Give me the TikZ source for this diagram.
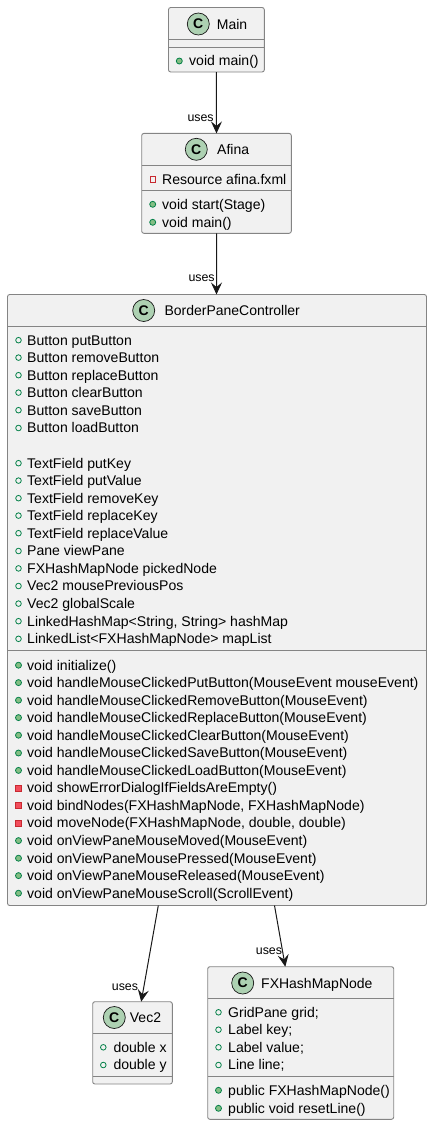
\documentclass[tikz,border=0pt]{standalone}
\usepackage{fontspec}
\setmainfont{Liberation Sans}
\usetikzlibrary{arrows.meta,calc}
\definecolor{boxfill}{HTML}{F1F1F1}
\definecolor{boxline}{HTML}{848484}
\definecolor{dark}{HTML}{181818}
\definecolor{spot}{HTML}{ADD1B2}
\definecolor{publine}{HTML}{038048}
\definecolor{pubfill}{HTML}{84BE84}
\definecolor{privline}{HTML}{C82930}
\definecolor{privfill}{HTML}{F24D5C}
\newcounter{rowid}
\tikzset{
  x=1pt,y=-1pt,
  classbox/.style={draw=boxline,fill=boxfill,line width=0.9pt,rounded corners=2.2pt,inner sep=0pt,outer sep=0pt,anchor=north west},
  sepline/.style={draw=boxline,line width=0.9pt},
  spotc/.style={circle,draw=dark,fill=spot,line width=0.7pt,minimum size=22pt,inner sep=0pt,font=\fontsize{14}{14}\selectfont\bfseries,text=black},
  titletext/.style={anchor=base west,inner sep=0pt,font=\fontsize{14}{14}\selectfont,text=black},
  rowtext/.style={anchor=base west,inner sep=0pt,font=\fontsize{14.05}{14}\selectfont,text=black},
  pubfield/.style={circle,draw=publine,line width=0.8pt,minimum size=5.6pt,inner sep=0pt},
  pubmethod/.style={circle,draw=publine,fill=pubfill,line width=0.8pt,minimum size=6pt,inner sep=0pt},
  privfield/.style={rectangle,draw=privline,line width=0.8pt,minimum size=5.6pt,inner sep=0pt},
  privmethod/.style={rectangle,draw=privline,fill=privfill,line width=0.8pt,minimum size=6pt,inner sep=0pt},
  edgelabel/.style={inner sep=0pt,font=\fontsize{12.4}{12}\selectfont,text=black},
  uses/.style={draw=dark,line width=1pt,-{Stealth[length=12pt,width=11pt,inset=4.5pt]}},
}
% #1 icon style, #2 icon x, #3 text x, #4 row centre y, #5 text
\newcommand{\classrow}[5]{%
  \stepcounter{rowid}%
  \node[#1] (icon\arabic{rowid}) at (#2,#4) {};
  \node[rowtext] (text\arabic{rowid}) at (#3,#4+4.8) {#5};
}
% #1 name, #2 x1, #3 y1, #4 x2, #5 y2
\newcommand{\classframe}[5]{%
  \node[classbox,minimum width=#4pt-#2pt,minimum height=#5pt-#3pt] (#1) at (#2,#3) {};
}
\newcommand{\classsep}[3]{\draw[sepline] (#1,#3) -- (#2,#3);}
\begin{document}
\begin{tikzpicture}
\useasboundingbox (0,0) rectangle (432,1125);
% Main
\classframe{main}{168.5}{7.5}{264.3}{72}
\classsep{168.5}{264.3}{39.4}
\classsep{168.5}{264.3}{47.4}
\node[spotc] (mainc) at (198.3,24) {C};
\node[titletext] (maint) at (216.7,29) {Main};
\classrow{pubmethod}{179.3}{189}{61}{void main()}
% Afina
\classframe{afina}{141.7}{133.4}{291.3}{233.3}
\classsep{141.7}{291.3}{165}
\classsep{141.7}{291.3}{190.7}
\node[spotc] (afinac) at (196.3,149.3) {C};
\node[titletext] (afinat) at (217,154.5) {Afina};
\classrow{privfield}{152.7}{162}{179.3}{Resource afina.fxml}
\classrow{pubmethod}{152.7}{162}{204.3}{void start(Stage)}
\classrow{pubmethod}{152.7}{162}{222.3}{void main()}
% BorderPaneController
\classframe{bpc}{7.5}{294.5}{426.5}{905.5}
\classsep{7.5}{426.5}{326}
\classsep{7.5}{426.5}{650.4}
\node[spotc] (bpcc) at (143.7,310.5) {C};
\node[titletext] (bpct) at (164.3,315.6) {BorderPaneController};
\classrow{pubfield}{18.5}{27}{340.2}{Button putButton}
\classrow{pubfield}{18.5}{27}{357.6}{Button removeButton}
\classrow{pubfield}{18.5}{27}{375.2}{Button replaceButton}
\classrow{pubfield}{18.5}{27}{392.6}{Button clearButton}
\classrow{pubfield}{18.5}{27}{410.2}{Button saveButton}
\classrow{pubfield}{18.5}{27}{428}{Button loadButton}
\classrow{pubfield}{18.5}{27}{463.2}{TextField putKey}
\classrow{pubfield}{18.5}{27}{480.6}{TextField putValue}
\classrow{pubfield}{18.5}{27}{498.2}{TextField removeKey}
\classrow{pubfield}{18.5}{27}{515.6}{TextField replaceKey}
\classrow{pubfield}{18.5}{27}{533.2}{TextField replaceValue}
\classrow{pubfield}{18.5}{27}{551}{Pane viewPane}
\classrow{pubfield}{18.5}{27}{568.4}{FXHashMapNode pickedNode}
\classrow{pubfield}{18.5}{27}{586}{Vec2 mousePreviousPos}
\classrow{pubfield}{18.5}{27}{603.6}{Vec2 globalScale}
\classrow{pubfield}{18.5}{27}{621.2}{LinkedHashMap<String, String> hashMap}
\classrow{pubfield}{18.5}{27}{638.8}{LinkedList<FXHashMapNode> mapList}
\classrow{pubmethod}{18.5}{27}{665.2}{void initialize()}
\classrow{pubmethod}{18.5}{27}{682.6}{void handleMouseClickedPutButton(MouseEvent mouseEvent)}
\classrow{pubmethod}{18.5}{27}{700.2}{void handleMouseClickedRemoveButton(MouseEvent)}
\classrow{pubmethod}{18.5}{27}{717.6}{void handleMouseClickedReplaceButton(MouseEvent)}
\classrow{pubmethod}{18.5}{27}{735.2}{void handleMouseClickedClearButton(MouseEvent)}
\classrow{pubmethod}{18.5}{27}{753}{void handleMouseClickedSaveButton(MouseEvent)}
\classrow{pubmethod}{18.5}{27}{770.4}{void handleMouseClickedLoadButton(MouseEvent)}
\classrow{privmethod}{18.5}{27}{788}{void showErrorDialogIfFieldsAreEmpty()}
\classrow{privmethod}{18.5}{27}{805.4}{void bindNodes(FXHashMapNode, FXHashMapNode)}
\classrow{privmethod}{18.5}{27}{823}{void moveNode(FXHashMapNode, double, double)}
\classrow{pubmethod}{18.5}{27}{840.6}{void onViewPaneMouseMoved(MouseEvent)}
\classrow{pubmethod}{18.5}{27}{858.2}{void onViewPaneMousePressed(MouseEvent)}
\classrow{pubmethod}{18.5}{27}{875.6}{void onViewPaneMouseReleased(MouseEvent)}
\classrow{pubmethod}{18.5}{27}{893.2}{void onViewPaneMouseScroll(ScrollEvent)}
% Vec2
\classframe{vec}{92.7}{1001.7}{172.3}{1084}
\classsep{92.7}{172.3}{1033.4}
\classsep{92.7}{172.3}{1076}
\node[spotc] (vecc) at (114.3,1017.5) {C};
\node[titletext] (vect) at (129.7,1022.6) {Vec2};
\classrow{pubfield}{103.3}{113.3}{1047.3}{double x}
\classrow{pubfield}{103.3}{113.3}{1065}{double y}
% FXHashMapNode
\classframe{fx}{207.7}{966.7}{393.7}{1119.3}
\classsep{207.7}{393.7}{998.4}
\classsep{207.7}{393.7}{1076.4}
\node[spotc] (fxc) at (242.7,983) {C};
\node[titletext] (fxt) at (261,988) {FXHashMapNode};
\classrow{pubfield}{218.5}{228}{1012.3}{GridPane grid;}
\classrow{pubfield}{218.5}{228}{1029.7}{Label key;}
\classrow{pubfield}{218.5}{228}{1047.3}{Label value;}
\classrow{pubfield}{218.5}{228}{1065}{Line line;}
\classrow{pubmethod}{218.5}{228}{1090.3}{public FXHashMapNode()}
\classrow{pubmethod}{218.5}{228}{1108.3}{public void resetLine()}
% connectors
\draw[uses] ($(main.south west)!0.5!(main.south east)$) -- ($(afina.north west)!0.5!(afina.north east)$);
\draw[uses] ($(afina.south west)!0.5!(afina.south east)$) -- (bpc.north west -| afina.south);
\coordinate (bpcv) at ($(bpc.south west)+(150.8,0)$);
\coordinate (bpcf) at ($(bpc.south west)+(267,0)$);
\coordinate (vectip) at ($(vec.north west)+(48.5,0)$);
\coordinate (fxtip) at ($(fx.north west)+(77.6,0)$);
\draw[uses] (bpcv) -- (vectip);
\draw[uses] (bpcf) -- (fxtip);
\node[edgelabel,anchor=west] (l1) at (187.3,117.8) {uses};
\node[edgelabel,anchor=west] (l2) at (188.3,278.5) {uses};
\node[edgelabel,anchor=west] (l3) at (111.7,986.8) {uses};
\node[edgelabel,anchor=west] (l4) at (255.7,950.8) {uses};
\end{tikzpicture}
\end{document}
